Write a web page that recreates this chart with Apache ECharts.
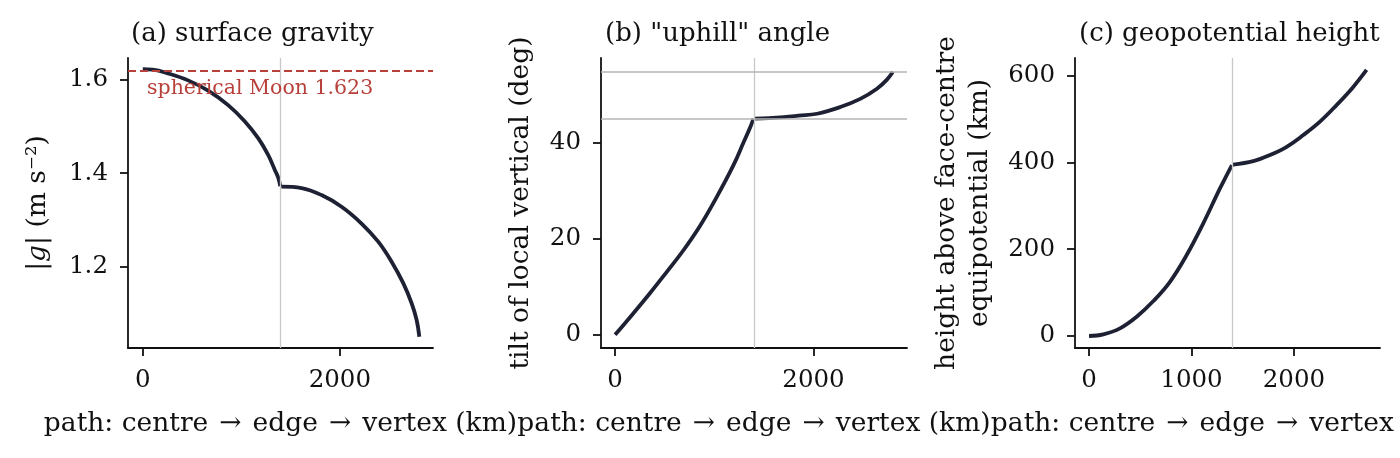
<!DOCTYPE html>
<html>
<head>
<meta charset="utf-8">
<script src="https://cdn.jsdelivr.net/npm/echarts@6/dist/echarts.min.js"></script>
<style>
  html, body { margin: 0; padding: 0; background: #fff; }
  #chart { width: 1400px; height: 458px; }
</style>
</head>
<body>
<div id="chart"></div>
<script>
// path position where the centre→edge leg meets the edge→vertex leg (km)
var EDGE_KM = 1400;
var MOON_G = 1.623;
var FACE_ANGLES = [45, 54.74];

// (a) surface gravity
var gravKmA = [0, 100, 257, 460, 663, 866, 1036, 1171, 1272, 1340, 1375, 1395];
var gravA   = [1.623, 1.622, 1.614, 1.599, 1.577, 1.546, 1.511, 1.475, 1.439, 1.407, 1.390, 1.372];
var gravKmB = [1405, 1611, 1814, 2017, 2220, 2389, 2525, 2643, 2728, 2779, 2806];
var gravB   = [1.371, 1.368, 1.353, 1.328, 1.292, 1.253, 1.210, 1.164, 1.121, 1.085, 1.049];

// (b) uphill angle
var tiltKmA = [0, 185, 353, 521, 689, 857, 1025, 1193, 1294, 1362, 1395];
var tiltA   = [0, 4.5, 8.7, 13.1, 17.6, 22.7, 28.7, 35.3, 40.0, 43.2, 45.0];
var tiltKmB = [1400, 1550, 1700, 1850, 2036, 2270, 2471, 2639, 2740, 2800];
var tiltB   = [45.0, 45.1, 45.3, 45.6, 46.0, 47.4, 49.1, 51.2, 53.1, 54.74];

// (c) geopotential height
var hgtKmA = [0, 140, 302, 465, 628, 790, 953, 1115, 1278, 1395];
var hgtA   = [0, 3.9, 17.7, 44.5, 80.6, 125, 186.6, 259.6, 340, 394];
var hgtKmB = [1405, 1603, 1766, 1929, 2091, 2254, 2416, 2579, 2709];
var hgtB   = [395, 403, 417, 436, 463, 494, 532, 574, 613];

// tick labels
var xTicksA = [0, 2000];
var yTicksA = [1.2, 1.4, 1.6];
var xTicksB = [0, 2000];
var yTicksB = [0, 20, 40];
var xTicksC = [0, 1000, 2000];
var yTicksC = [0, 200, 400, 600];

var FONT = 'DejaVu Serif';
var INK = '#1d2133';
var ARROW = ' \u200A\u2192\u200A ';
var XNAME = 'path: centre' + ARROW + 'edge' + ARROW + 'vertex (km)';

function pairs(xs, ys) {
  return xs.map(function (x, i) { return [x, ys[i]]; });
}

function xAxisCfg(idx, min, max, ticks) {
  return {
    type: 'value', gridIndex: idx, min: min, max: max,
    name: XNAME, nameLocation: 'middle', nameGap: 63,
    nameTextStyle: { fontFamily: FONT, fontSize: 26.5, color: '#111' },
    axisLine: { onZero: false, lineStyle: { color: '#111', width: 1.8 } },
    axisTick: { customValues: ticks, length: 8, lineStyle: { color: '#111', width: 1.8 } },
    axisLabel: { customValues: ticks, margin: 20, fontFamily: FONT, fontSize: 24.5, color: '#111',
      formatter: function (v) { return String(v); } },
    splitLine: { show: false }
  };
}

function yAxisCfg(idx, min, max, ticks, name, gap, fmt) {
  return {
    type: 'value', gridIndex: idx, min: min, max: max,
    name: name, nameLocation: 'middle', nameGap: gap, nameRotate: 90,
    nameTextStyle: { fontFamily: FONT, fontSize: 26.5, color: '#111', lineHeight: 33,
      rich: { it: { fontFamily: FONT, fontStyle: 'italic', fontSize: 26.5, color: '#111' } } },
    axisLine: { show: true, onZero: false, lineStyle: { color: '#111', width: 1.8 } },
    axisTick: { show: true, customValues: ticks, length: 8, lineStyle: { color: '#111', width: 1.8 } },
    axisLabel: { customValues: ticks, margin: 20, fontFamily: FONT, fontSize: 24.5, color: '#111',
      formatter: fmt || function (v) { return String(v); } },
    splitLine: { show: false }
  };
}

function curve(idx, xs, ys, extra) {
  var s = {
    type: 'line', xAxisIndex: idx, yAxisIndex: idx,
    data: pairs(xs, ys), showSymbol: false, smooth: 0.4,
    lineStyle: { color: INK, width: 3.8 }, z: 3, silent: true
  };
  if (extra) s.markLine = extra;
  return s;
}

var edgeStyle = { color: '#c8c8c8', width: 1.3, type: 'solid' };

var chart = echarts.init(document.getElementById('chart'));

var option = {
  animation: false,
  backgroundColor: '#fff',
  title: [
    { text: '(a) surface gravity', left: 126, top: 16 },
    { text: '(b) "uphill" angle', left: 600, top: 16 },
    { text: '(c) geopotential height', left: 1074, top: 16 }
  ].map(function (t) {
    t.textStyle = { fontFamily: FONT, fontSize: 26, fontWeight: 'normal', color: '#111' };
    return t;
  }),
  grid: [
    { left: 128, top: 58, width: 305, height: 290, outerBoundsMode: 'none', containLabel: false },
    { left: 601, top: 58, width: 306, height: 290, outerBoundsMode: 'none', containLabel: false },
    { left: 1075, top: 58, width: 305, height: 290, outerBoundsMode: 'none', containLabel: false }
  ],
  xAxis: [
    xAxisCfg(0, -150, 2945, xTicksA),
    xAxisCfg(1, -142, 2942, xTicksB),
    xAxisCfg(2, -137, 2840, xTicksC)
  ],
  yAxis: [
    yAxisCfg(0, 1.025, 1.647, yTicksA, '|{it|g}| (m s\u207B\u00B2)', 73, function (v) { return v.toFixed(1); }),
    yAxisCfg(1, -2.74, 57.6, yTicksB, 'tilt of local vertical (deg)', 63),
    yAxisCfg(2, -27.6, 640.6, yTicksC, 'height above face-centre\nequipotential (km)', 78)
  ],
  series: [
    curve(0, gravKmA, gravA, {
      silent: true, symbol: ['none', 'none'], animation: false,
      data: [
        { xAxis: EDGE_KM, label: { show: false }, lineStyle: edgeStyle },
        { yAxis: MOON_G,
          lineStyle: { color: '#b8403a', width: 2, type: [8, 4] },
          label: { show: true, formatter: 'spherical Moon ' + MOON_G.toFixed(3), position: 'insideStartBottom',
            distance: [19, 8], fontFamily: FONT, fontSize: 20.5, color: '#b8403a' } }
      ]
    }),
    curve(0, gravKmB, gravB),
    curve(1, tiltKmA, tiltA, {
      silent: true, symbol: ['none', 'none'], animation: false,
      label: { show: false },
      data: [{ xAxis: EDGE_KM, lineStyle: edgeStyle }].concat(
        FACE_ANGLES.map(function (a) {
          return { yAxis: a, lineStyle: { color: '#b4b4b4', width: 1.5, type: 'solid' } };
        }))
    }),
    curve(1, tiltKmB, tiltB),
    curve(2, hgtKmA, hgtA, {
      silent: true, symbol: ['none', 'none'], animation: false,
      label: { show: false },
      data: [{ xAxis: EDGE_KM, lineStyle: edgeStyle }]
    }),
    curve(2, hgtKmB, hgtB)
  ]
};

chart.setOption(option);
</script>
</body>
</html>
